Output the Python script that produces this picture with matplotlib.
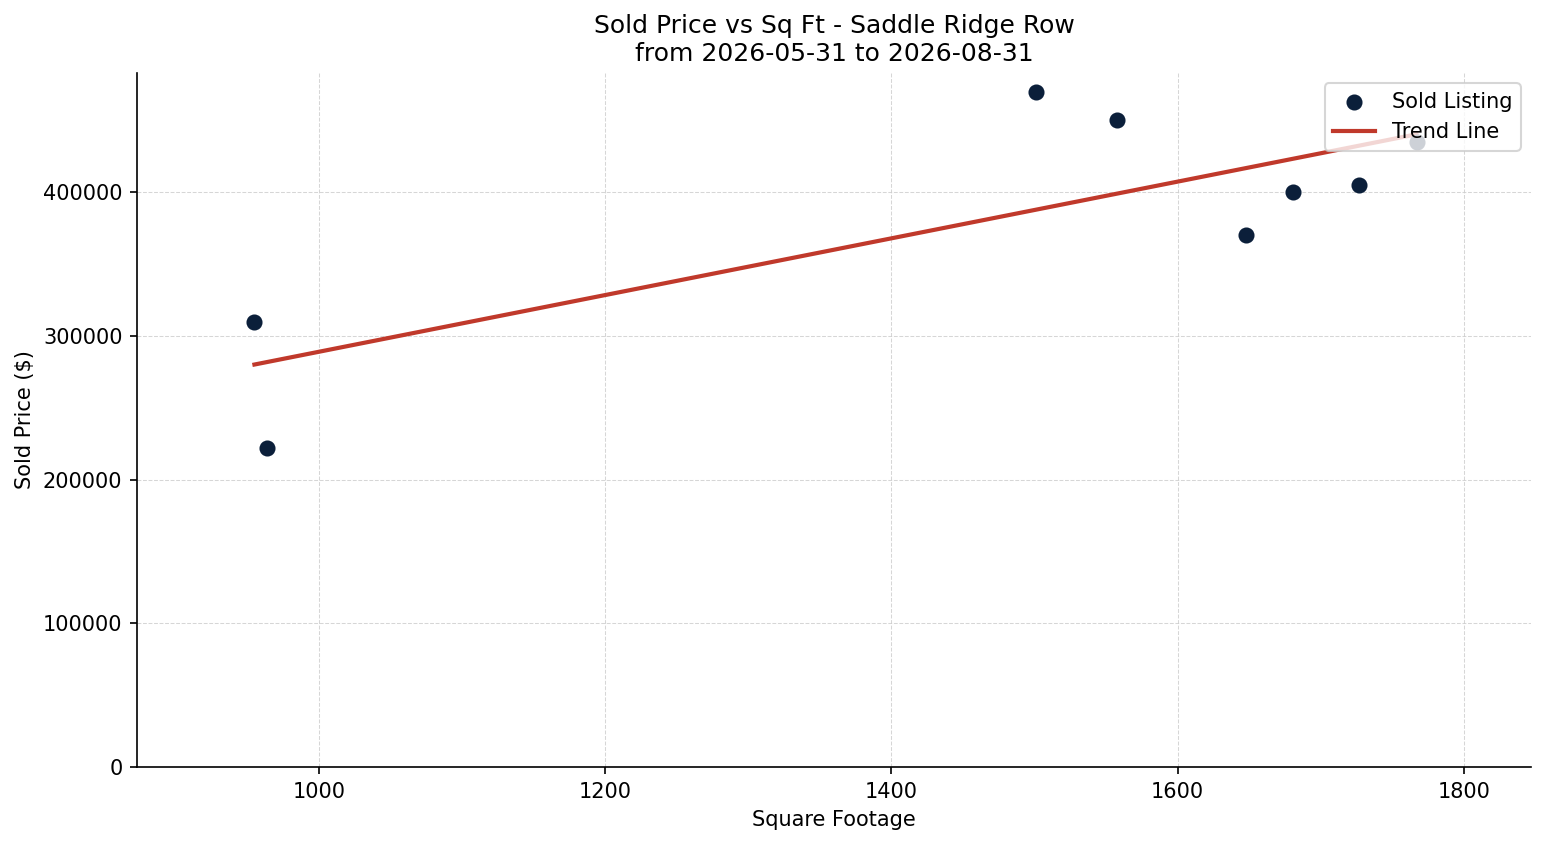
import numpy as np
import matplotlib
matplotlib.use("Agg")
import matplotlib.pyplot as plt

sqft = [955, 964, 1501, 1558, 1648, 1681, 1727, 1767]
price = [310000, 222000, 470000, 450000, 370000, 400000, 405000, 435000]

fig, ax = plt.subplots(figsize=(1547/150, 845/150), dpi=150)
ax.scatter(sqft, price, s=45, color="#0b1f3a", zorder=3, label="Sold Listing")
m, b = np.polyfit(sqft, price, 1)
xs = np.array([min(sqft), max(sqft)])
ax.plot(xs, m * xs + b, color="#c0392b", lw=2, label="Trend Line", zorder=2)

ax.set_xlim(873, 1847)
ax.set_ylim(0, 483000)
ax.set_xlabel("Square Footage", fontsize=10)
ax.set_ylabel("Sold Price ($)", fontsize=10)
ax.set_title("Sold Price vs Sq Ft - Saddle Ridge Row\nfrom 2026-05-31 to 2026-08-31", fontsize=12)
ax.tick_params(labelsize=10)
ax.grid(True, linestyle="--", color="#cccccc", alpha=0.8, linewidth=0.5)
ax.spines["top"].set_visible(False)
ax.spines["right"].set_visible(False)
ax.legend(loc="upper right", fontsize=10)
fig.subplots_adjust(left=0.0886, right=0.9897, top=0.9136, bottom=0.0923)
fig.savefig("out.png")
